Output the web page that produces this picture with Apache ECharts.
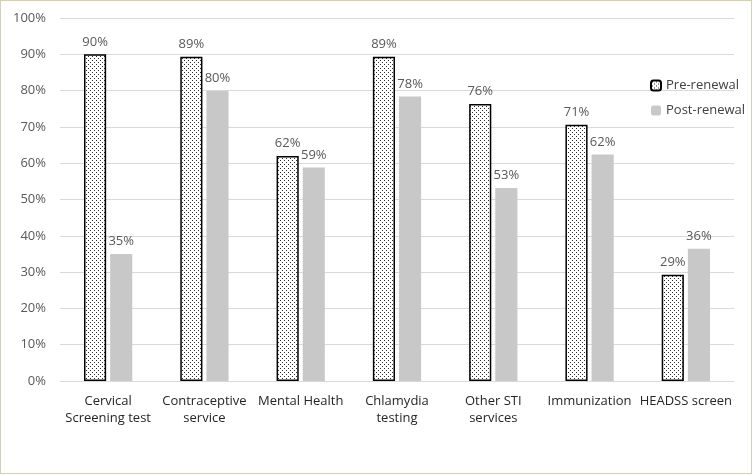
<!DOCTYPE html>
<html>
<head>
<meta charset="utf-8">
<script src="https://cdn.jsdelivr.net/npm/echarts@6/dist/echarts.min.js"></script>
<style>
html,body{margin:0;padding:0;background:#fff;}
#wrap{position:absolute;left:0;top:0;width:750px;height:472px;border:1px solid #d3cfb4;}
#chart{width:750px;height:472px;}
</style>
</head>
<body>
<div id="wrap"><div id="chart"></div></div>
<script>
const categories = ['Cervical\nScreening test','Contraceptive\nservice','Mental Health','Chlamydia\ntesting','Other STI\nservices','Immunization','HEADSS screen'];
const preRenewal = [90.0, 89.3, 62.0, 89.3, 76.3, 70.6, 29.3];
const postRenewal = [35.0, 79.9, 58.8, 78.4, 53.2, 62.4, 36.4];
const seriesNames = ['Pre-renewal','Post-renewal'];

const pc = document.createElement('canvas');
pc.width = 4; pc.height = 4;
const pctx = pc.getContext('2d');
pctx.fillStyle = '#fff'; pctx.fillRect(0,0,4,4);
pctx.fillStyle = '#333';
pctx.fillRect(1,1,1,1);
pctx.fillRect(3,3,1,1);
const dotPattern = {image: pc, repeat: 'repeat'};

const chart = echarts.init(document.getElementById('chart'), null, {renderer:'canvas'});
const labelStyle = {show:true, position:'top', distance:6, color:'#595959', fontSize:13, fontFamily:'"Open Sans", sans-serif',
  formatter: p => Math.round(p.value) + '%'};
chart.setOption({
  animation:false,
  grid:{left:59, right:17, top:17, bottom:92},
  legend:{
    orient:'vertical', left:644, top:73, itemWidth:10, itemHeight:10, itemGap:12,
    textStyle:{color:'#404040', fontSize:13, fontFamily:'"Open Sans", sans-serif'},
    data:seriesNames
  },
  xAxis:{
    type:'category', data:categories,
    axisLine:{lineStyle:{color:'#d9d9d9'}}, axisTick:{show:false},
    axisLabel:{color:'#262626', fontSize:13, fontFamily:'"Open Sans", sans-serif', margin:12, lineHeight:17, interval:0}
  },
  yAxis:{
    type:'value', min:0, max:100, interval:10,
    axisLabel:{formatter:'{value}%', color:'#595959', fontSize:13, fontFamily:'"Open Sans", sans-serif', margin:14},
    splitLine:{lineStyle:{color:'#d9d9d9'}},
    axisLine:{show:false}, axisTick:{show:false}
  },
  series:[
    {name:seriesNames[0], type:'bar', data:preRenewal, barWidth:'23%', barGap:'18%',
     itemStyle:{color:dotPattern, borderColor:'#000', borderWidth:1.5}, label:labelStyle},
    {name:seriesNames[1], type:'bar', data:postRenewal, barWidth:'23%',
     itemStyle:{color:'#c8c8c8'}, label:labelStyle}
  ]
});
</script>
</body>
</html>
